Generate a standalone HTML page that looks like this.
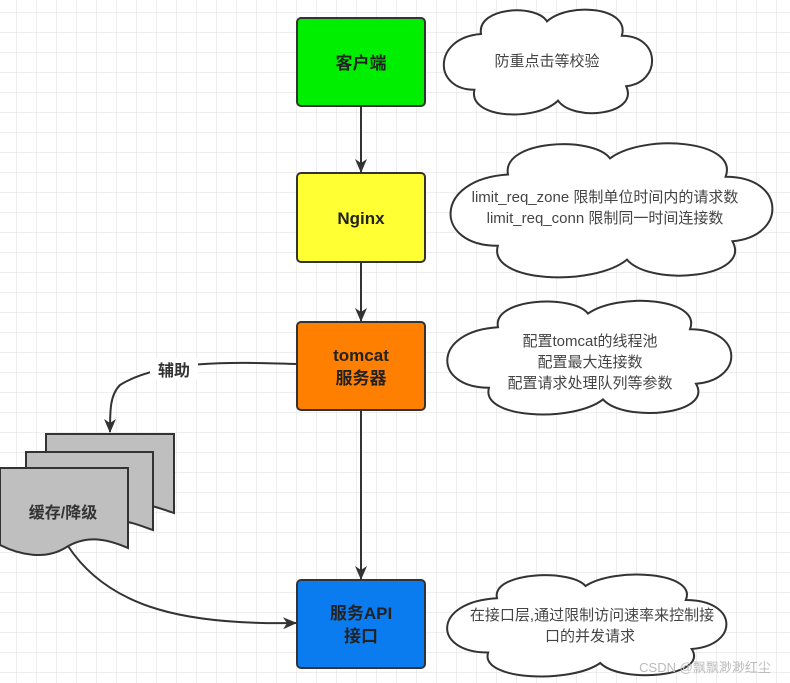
<!DOCTYPE html>
<html><head><meta charset="utf-8"><style>
html,body{margin:0;padding:0;background:#fff;}
svg{display:block;font-family:"Liberation Sans","Noto Sans CJK SC",sans-serif;}
</style></head><body>
<svg width="790" height="683" viewBox="0 0 790 683" xmlns="http://www.w3.org/2000/svg">
<defs>
<pattern id="g" width="20" height="20" patternUnits="userSpaceOnUse" x="-3" y="-7">
<path d="M20 0V20M0 20H20" stroke="#dedede" stroke-width="1" fill="none"/>
</pattern>
<marker id="a" markerWidth="14" markerHeight="12" refX="13" refY="6" orient="auto" markerUnits="userSpaceOnUse">
<path d="M0,0 L14,6 L0,12 L4,6 Z" fill="#333"/>
</marker>
</defs>
<rect width="790" height="683" fill="url(#g)"/>
<g fill="#fff" stroke="#333" stroke-width="2">
<path d="M20,15 C18,0 45,-2 50,8 C60,-3 88,0 84,16 C102,16 102,42 86,44 C92,60 62,64 55,52 C45,64 14,62 17,46 C-2,46 -2,17 20,15 Z" transform="translate(437,7) scale(2.2,1.8)" vector-effect="non-scaling-stroke"/>
<path d="M20,15 C18,0 45,-2 50,8 C60,-3 88,0 84,16 C102,16 102,42 86,44 C92,60 62,64 55,52 C45,64 14,62 17,46 C-2,46 -2,17 20,15 Z" transform="translate(440,140) scale(3.4,2.3)" vector-effect="non-scaling-stroke"/>
<path d="M20,15 C18,0 45,-2 50,8 C60,-3 88,0 84,16 C102,16 102,42 86,44 C92,60 62,64 55,52 C45,64 14,62 17,46 C-2,46 -2,17 20,15 Z" transform="translate(438,298) scale(3.0,1.95)" vector-effect="non-scaling-stroke"/>
<path d="M20,15 C18,0 45,-2 50,8 C60,-3 88,0 84,16 C102,16 102,42 86,44 C92,60 62,64 55,52 C45,64 14,62 17,46 C-2,46 -2,17 20,15 Z" transform="translate(438,572) scale(2.95,1.75)" vector-effect="non-scaling-stroke"/>
</g>
<g fill="#444" font-size="15" text-anchor="middle">
<text x="547" y="66">防重点击等校验</text>
<text x="605" y="202">limit_req_zone 限制单位时间内的请求数</text>
<text x="605" y="223">limit_req_conn 限制同一时间连接数</text>
<text x="590" y="346">配置tomcat的线程池</text>
<text x="590" y="367">配置最大连接数</text>
<text x="590" y="388">配置请求处理队列等参数</text>
<text x="592" y="620">在接口层,通过限制访问速率来控制接</text>
<text x="590" y="641">口的并发请求</text>
</g>
<g stroke="#333" stroke-width="2" fill="none" marker-end="url(#a)">
<line x1="361" y1="107" x2="361" y2="172"/>
<line x1="361" y1="263" x2="361" y2="321"/>
<line x1="361" y1="411" x2="361" y2="579"/>
<path d="M297,364 C230,362 160,360 120,385 C110,395 110,410 110,432"/>
<path d="M68,546 C110,610 190,625 296,623"/>
</g>
<rect x="150" y="358" width="48" height="22" fill="#fff"/>
<text x="174" y="376" font-size="16" font-weight="bold" fill="#333" text-anchor="middle">辅助</text>
<g fill="#bfbfbf" stroke="#333" stroke-width="2">
<path d="M46,434 H174 V513 C150,505 140,500 120,512 C95,525 70,520 46,510 Z"/>
<path d="M26,452 H153 V530 C130,522 115,515 95,528 C75,540 50,535 26,525 Z"/>
<path d="M0,468 H128 V548 C105,538 85,535 65,548 C45,560 20,555 0,545 Z"/>
</g>
<text x="63" y="518" font-size="16" font-weight="bold" fill="#333" text-anchor="middle">缓存/降级</text>
<g stroke="#333" stroke-width="2">
<rect x="297" y="18" width="128" height="88" rx="4" fill="#00ee00"/>
<rect x="297" y="173" width="128" height="89" rx="4" fill="#ffff33"/>
<rect x="297" y="322" width="128" height="88" rx="4" fill="#ff8000"/>
<rect x="297" y="580" width="128" height="88" rx="4" fill="#0a7cf0"/>
</g>
<g font-size="17" font-weight="bold" fill="#222" text-anchor="middle">
<text x="361" y="69">客户端</text>
<text x="361" y="224">Nginx</text>
<text x="361" y="361">tomcat</text>
<text x="361" y="384">服务器</text>
<text x="361" y="619">服务API</text>
<text x="361" y="642">接口</text>
</g>
<text x="705" y="672" font-size="13" fill="#bbb" text-anchor="middle">CSDN @飘飘渺渺红尘</text>
</svg>
</body></html>
